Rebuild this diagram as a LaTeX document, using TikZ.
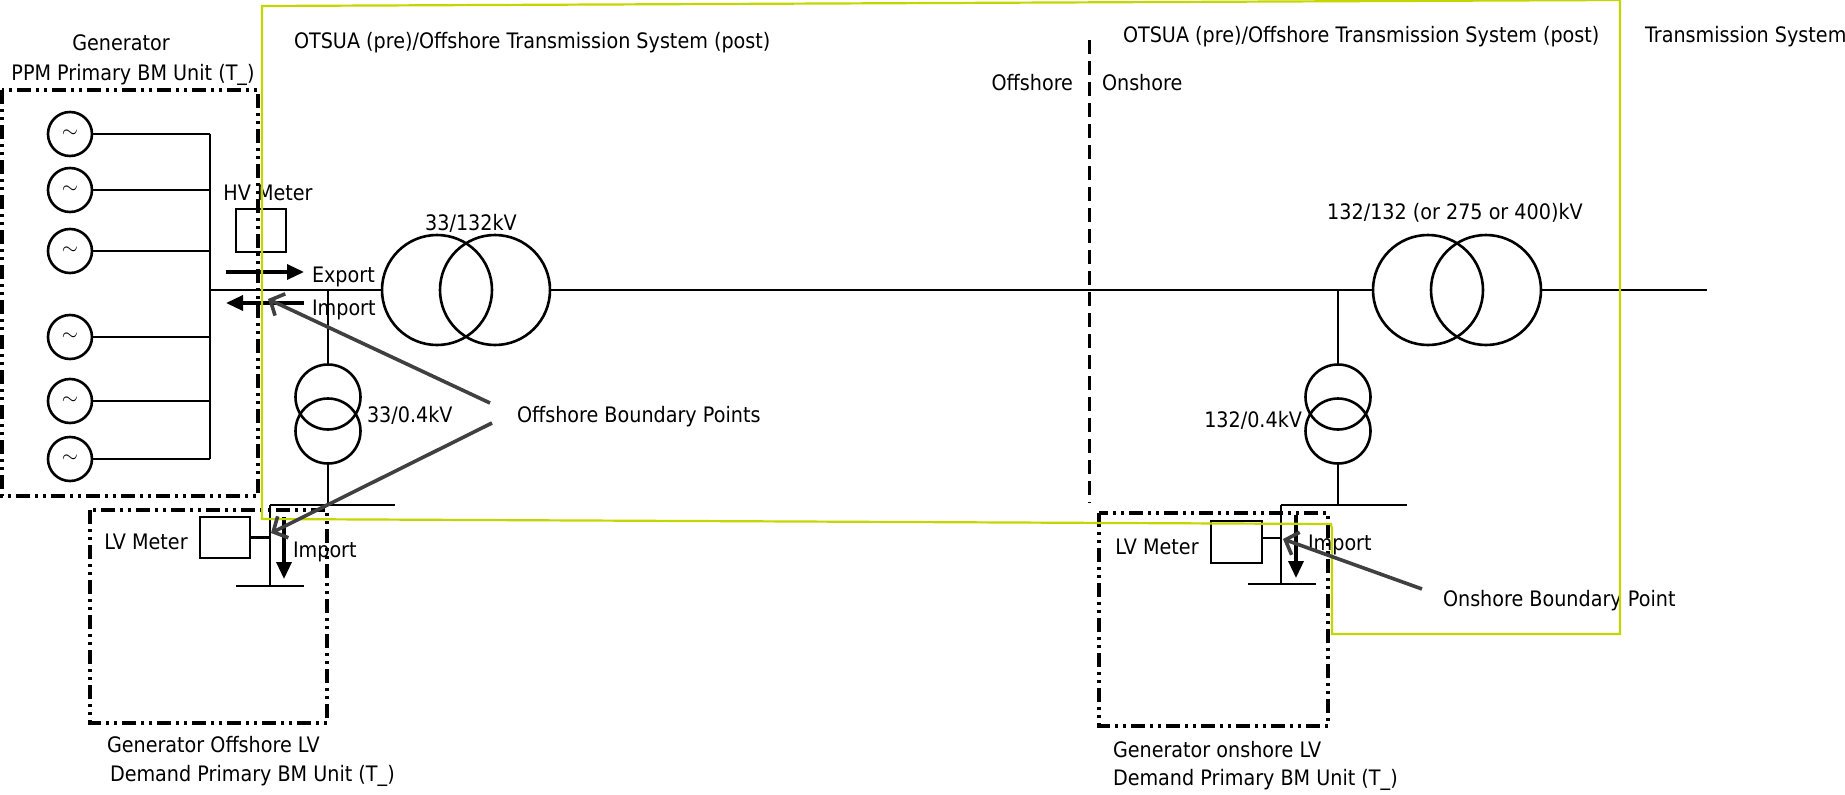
\documentclass[tikz,border=0pt]{standalone}
\usepackage{fontspec}
\setmainfont{DejaVu Sans}[FakeStretch=0.9]
\usetikzlibrary{arrows.meta}
\definecolor{grn}{RGB}{196,214,0}
\definecolor{gry}{RGB}{64,64,64}
\begin{document}
\begin{tikzpicture}[x=1pt,y=-1pt,
  every node/.style={inner sep=0pt, outer sep=0pt, font=\fontsize{21.3}{25}\selectfont},
  wire/.style={line width=2.6pt},
  ring/.style={circle, draw, line width=2.6pt, minimum size=#1, inner sep=0pt},
  gen/.style={circle, draw, line width=2.6pt, minimum size=44, inner sep=0pt, font=\fontsize{21}{24}\selectfont},
  meter/.style={draw, line width=2.6pt, minimum width=50, minimum height=42},
  ddbox/.style={line width=3.2pt, dash pattern=on 14pt off 5pt on 3pt off 5pt on 3pt off 5pt},
  bigarrow/.style={line width=3.4pt, -{Triangle[length=17pt,width=15pt]}},
  pointer/.style={gry, line width=3.6pt, -{Straight Barb[length=11pt,width=24pt]}},
  greenline/.style={grn, line width=2.2pt}
]
\useasboundingbox (0,0) rectangle (1845,795);

% ---------- texts ----------
\node (tGen) at (121,43) {Generator};
\node (tPPM) at (133,75) {PPM Primary BM Unit (T\_)};
\node[anchor=west] (tOT1) at (294,43) {OTSUA (pre)/Offshore Transmission System (post)};
\node[anchor=west] (tOT2) at (1123,37) {OTSUA (pre)/Offshore Transmission System (post)};
\node[anchor=west] (tTS) at (1645,37) {Transmission System};
\node[anchor=east] (tOff) at (1073,83) {Offshore};
\node[anchor=west] (tOn) at (1102,83) {Onshore};
\node (tHV) at (268,193) {HV Meter};
\node[anchor=west] (tExp) at (312,277) {Export};
\node[anchor=west] (tImp) at (312,310) {Import};
\node (t33132) at (471,223) {33/132kV};
\node[anchor=west] (t3304) at (367,415) {33/0.4kV};
\node[anchor=west] (tOBP) at (517,417) {Offshore Boundary Points};
\node (tLV1) at (146,542) {LV Meter};
\node[anchor=west] (tImp1) at (293,552) {Import};
\node[anchor=west] (tGO1) at (107,745) {Generator Offshore LV};
\node[anchor=west] (tGO2) at (110,776) {Demand Primary BM Unit (T\_)};
\node (t132) at (1455,213) {132/132 (or 275 or 400)kV};
\node[anchor=east] (t13204) at (1302,420) {132/0.4kV};
\node (tLV2) at (1157,547) {LV Meter};
\node[anchor=west] (tImp2) at (1308,545) {Import};
\node[anchor=west] (tOnBP) at (1443,601) {Onshore Boundary Point};
\node[anchor=west] (tGN1) at (1113,750) {Generator onshore LV};
\node[anchor=west] (tGN2) at (1113,780) {Demand Primary BM Unit (T\_)};

% ---------- generator unit ----------
\draw[ddbox] (2,90) rectangle (258,496);
\foreach \y [count=\i] in {134,190,251,337,401,459} {
  \node[gen] (g\i) at (70,\y) {$\sim$};
  \coordinate (gb\i) at (210,\y);
  \draw[wire] (g\i.east) -- (gb\i);
}
\draw[wire] (gb1) -- (gb6);

% HV meter and flows
\node[meter, minimum height=43] (hvm) at (261,230.5) {};
\coordinate (expS) at (226,272); \coordinate (expE) at (304,272);
\coordinate (impS) at (304,303); \coordinate (impE) at (226,303);
\draw[bigarrow] (expS) -- (expE);
\draw[bigarrow] (impS) -- (impE);

% ---------- main bus and transformers ----------
\coordinate (busL) at (210,290);
\node[ring=110] (t1a) at (437,290) {};
\node[ring=110] (t1b) at (495,290) {};
\node[ring=110] (t2a) at (1428,290) {};
\node[ring=110] (t2b) at (1486,290) {};
\coordinate (busR) at (1707,290);
\draw[wire] (busL) -- (t1a.west);
\draw[wire] (t1b.east) -- (t2a.west);
\draw[wire] (t2b.east) -- (busR);

% ---------- offshore auxiliary supply ----------
\coordinate (d1) at (328,290);
\node[ring=65] (a1) at (328,397) {};
\node[ring=65] (b1) at (328,431) {};
\coordinate (lv1) at (328,505);
\draw[wire] (d1) -- (a1.north);
\draw[wire] (b1.south) -- (lv1);
\coordinate (lvbL1) at (270,505); \coordinate (lvbR1) at (395,505);
\draw[wire] (lvbL1) -- (lvbR1);
\coordinate (lvv1) at (270,586);
\draw[wire] (lvbL1) -- (lvv1);
\coordinate (bar1L) at (236,586); \coordinate (bar1R) at (304,586);
\draw[wire] (bar1L) -- (bar1R);
\node[meter, minimum height=41] (lvm1) at (225,537.5) {};
\coordinate (lvj1) at (270,537.5);
\draw[wire] (lvm1.east) -- (lvj1);
\coordinate (di1S) at (284,517); \coordinate (di1E) at (284,579);
\draw[bigarrow] (di1S) -- (di1E);
\draw[ddbox] (90,510) rectangle (327,723);

% ---------- onshore auxiliary supply ----------
\coordinate (d2) at (1338,290);
\node[ring=65] (a2) at (1338,397) {};
\node[ring=65] (b2) at (1338,431) {};
\coordinate (lv2) at (1338,505);
\draw[wire] (d2) -- (a2.north);
\draw[wire] (b2.south) -- (lv2);
\coordinate (lvbL2) at (1281,505); \coordinate (lvbR2) at (1407,505);
\draw[wire] (lvbL2) -- (lvbR2);
\coordinate (lvv2) at (1281,584);
\draw[wire] (lvbL2) -- (lvv2);
\coordinate (bar2L) at (1248,584); \coordinate (bar2R) at (1316,584);
\draw[wire] (bar2L) -- (bar2R);
\node[meter, minimum width=51] (lvm2) at (1236.5,542) {};
\coordinate (lvj2) at (1281,538);
\draw[wire] (lvm2.east |- lvj2) -- (lvj2);
\coordinate (di2S) at (1296,515); \coordinate (di2E) at (1296,578);
\draw[bigarrow] (di2S) -- (di2E);
\draw[ddbox] (1099,513) rectangle (1328,726);

% offshore / onshore divider
\coordinate (divT) at (1089,40); \coordinate (divB) at (1089,503);
\draw[line width=3pt, dash pattern=on 14pt off 7pt] (divT) -- (divB);

% ---------- green boundary ----------
\draw[greenline] (262,6) -- (1620,0) -- (1620,634) -- (1332,634) -- (1332,529) -- (1331,524) -- (262,519) -- cycle;

% ---------- boundary pointers ----------
\coordinate (p1S) at (490,403); \coordinate (p1E) at (268,299);
\coordinate (p2S) at (492,423); \coordinate (p2E) at (271,533);
\coordinate (p3S) at (1422,589); \coordinate (p3E) at (1283,539);
\draw[pointer] (p1S) -- (p1E);
\draw[pointer] (p2S) -- (p2E);
\draw[pointer] (p3S) -- (p3E);
\end{tikzpicture}
\end{document}
